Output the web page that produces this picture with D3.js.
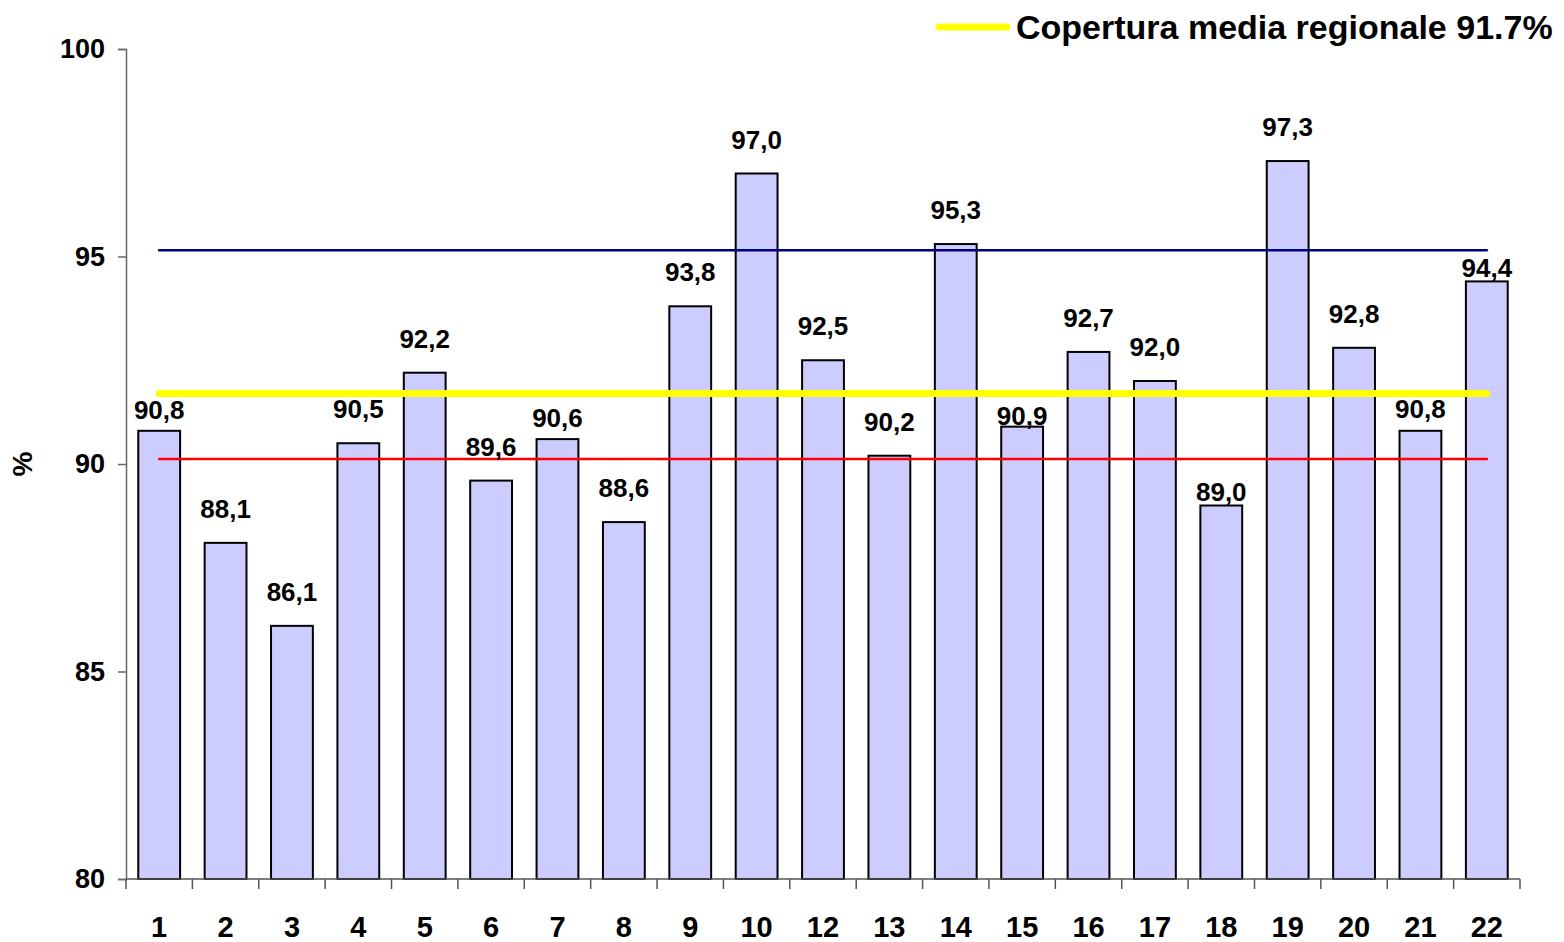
<!DOCTYPE html>
<html>
<head>
<meta charset="utf-8">
<script src="https://cdn.jsdelivr.net/npm/d3@7"></script>
<style>
  body { margin: 0; background: #fff; }
  svg text { font-family: "Liberation Sans", Arial, sans-serif; font-weight: bold; fill: #000; }
</style>
</head>
<body>
<div id="chart"></div>
<script>
// categories (there is no 11) and coverage values
var categories = ["1", "2", "3", "4", "5", "6", "7", "8", "9", "10", "12", "13", "14", "15", "16", "17", "18", "19", "20", "21", "22"];
var coverage = [90.8, 88.1, 86.1, 90.5, 92.2, 89.6, 90.6, 88.6, 93.8, 97.0, 92.5, 90.2, 95.3, 90.9, 92.7, 92.0, 89.0, 97.3, 92.8, 90.8, 94.4];
var yTicks = [80, 85, 90, 95, 100];
var regionalMean = 91.7;
var upperLine = 95.15;
var lowerLine = 90.12;
var legendLabel = "Copertura media regionale 91.7%";

var width = 1564, height = 942;
var margin = { top: 49, right: 44, bottom: 63, left: 126 };

var svg = d3.select("#chart").append("svg")
    .attr("width", width)
    .attr("height", height);

var x = d3.scaleBand()
    .domain(categories)
    .range([margin.left, width - margin.right])
    .paddingInner(0.37)
    .paddingOuter(0.185);

var band = d3.scaleBand()
    .domain(categories)
    .range([margin.left, width - margin.right]);

var y = d3.scaleLinear()
    .domain([80, 100])
    .range([height - margin.bottom, margin.top]);

// label nudges (px downwards) where the original labels were moved off the lines
var labelShift = { "1": 13, "7": 13, "15": 23, "18": 20, "21": 12, "22": 21 };

// bars
svg.append("g")
    .selectAll("rect")
    .data(categories)
    .enter().append("rect")
    .attr("x", function (d) { return x(d); })
    .attr("y", function (d, i) { return y(coverage[i]); })
    .attr("width", x.bandwidth())
    .attr("height", function (d, i) { return y(80) - y(coverage[i]); })
    .style("fill", "#CCCCFF")
    .style("stroke", "#000")
    .style("stroke-width", 2);

// reference lines
var xStart = band(categories[0]) + band.bandwidth() / 2;
var xEnd = band(categories[categories.length - 1]) + band.bandwidth() / 2;

function hline(v, color, w) {
    svg.append("line")
        .attr("x1", xStart).attr("x2", xEnd)
        .attr("y1", y(v)).attr("y2", y(v))
        .style("stroke", color)
        .style("stroke-width", w)
        .style("stroke-linecap", "round");
}
hline(upperLine, "#000080", 2.5);
hline(lowerLine, "#FF0000", 2.5);
hline(regionalMean, "#FFFF00", 7);

// value labels
var fmt = function (v) { return d3.format(".1f")(v).replace(".", ","); };
svg.append("g")
    .selectAll("text")
    .data(categories)
    .enter().append("text")
    .attr("x", function (d) { return x(d) + x.bandwidth() / 2; })
    .attr("y", function (d, i) { return y(coverage[i]) - 25 + (labelShift[d] || 0); })
    .attr("text-anchor", "middle")
    .style("font-size", "26px")
    .text(function (d, i) { return fmt(coverage[i]); });

// y axis
var yAxis = svg.append("g")
    .attr("transform", "translate(" + margin.left + ",0)")
    .call(d3.axisLeft(y).tickValues(yTicks).tickSize(8).tickPadding(13));
yAxis.select(".domain").style("stroke", "#666").style("stroke-width", 1.5);
yAxis.selectAll(".tick line").style("stroke", "#666").style("stroke-width", 1.5);
yAxis.selectAll("text").style("font-size", "27px").style("font-family", "Liberation Sans, Arial, sans-serif").style("font-weight", "bold");

// x axis: ticks between categories
var xAxis = svg.append("g")
    .attr("transform", "translate(0," + (height - margin.bottom) + ")");
xAxis.append("line")
    .attr("x1", margin.left).attr("x2", width - margin.right)
    .style("stroke", "#555").style("stroke-width", 1.5);
xAxis.selectAll("line.tk")
    .data(categories.concat(["end"]))
    .enter().append("line")
    .attr("class", "tk")
    .attr("x1", function (d, i) { return margin.left + i * band.bandwidth(); })
    .attr("x2", function (d, i) { return margin.left + i * band.bandwidth(); })
    .attr("y1", 0).attr("y2", 10)
    .style("stroke", "#555").style("stroke-width", 1.5);
xAxis.selectAll("text")
    .data(categories)
    .enter().append("text")
    .attr("x", function (d) { return band(d) + band.bandwidth() / 2; })
    .attr("y", 58)
    .attr("text-anchor", "middle")
    .style("font-size", "29px")
    .text(function (d) { return d; });

// y title
svg.append("text")
    .attr("transform", "translate(32," + ((margin.top + height - margin.bottom) / 2) + ") rotate(-90)")
    .attr("text-anchor", "middle")
    .style("font-size", "28px")
    .text("%");

// legend
svg.append("line")
    .attr("x1", 939).attr("x2", 1007)
    .attr("y1", 27).attr("y2", 27)
    .style("stroke", "#FFFF00")
    .style("stroke-width", 7)
    .style("stroke-linecap", "round");
svg.append("text")
    .attr("x", 1016)
    .attr("y", 39)
    .style("font-size", "34px")
    .text(legendLabel);
</script>
</body>
</html>
